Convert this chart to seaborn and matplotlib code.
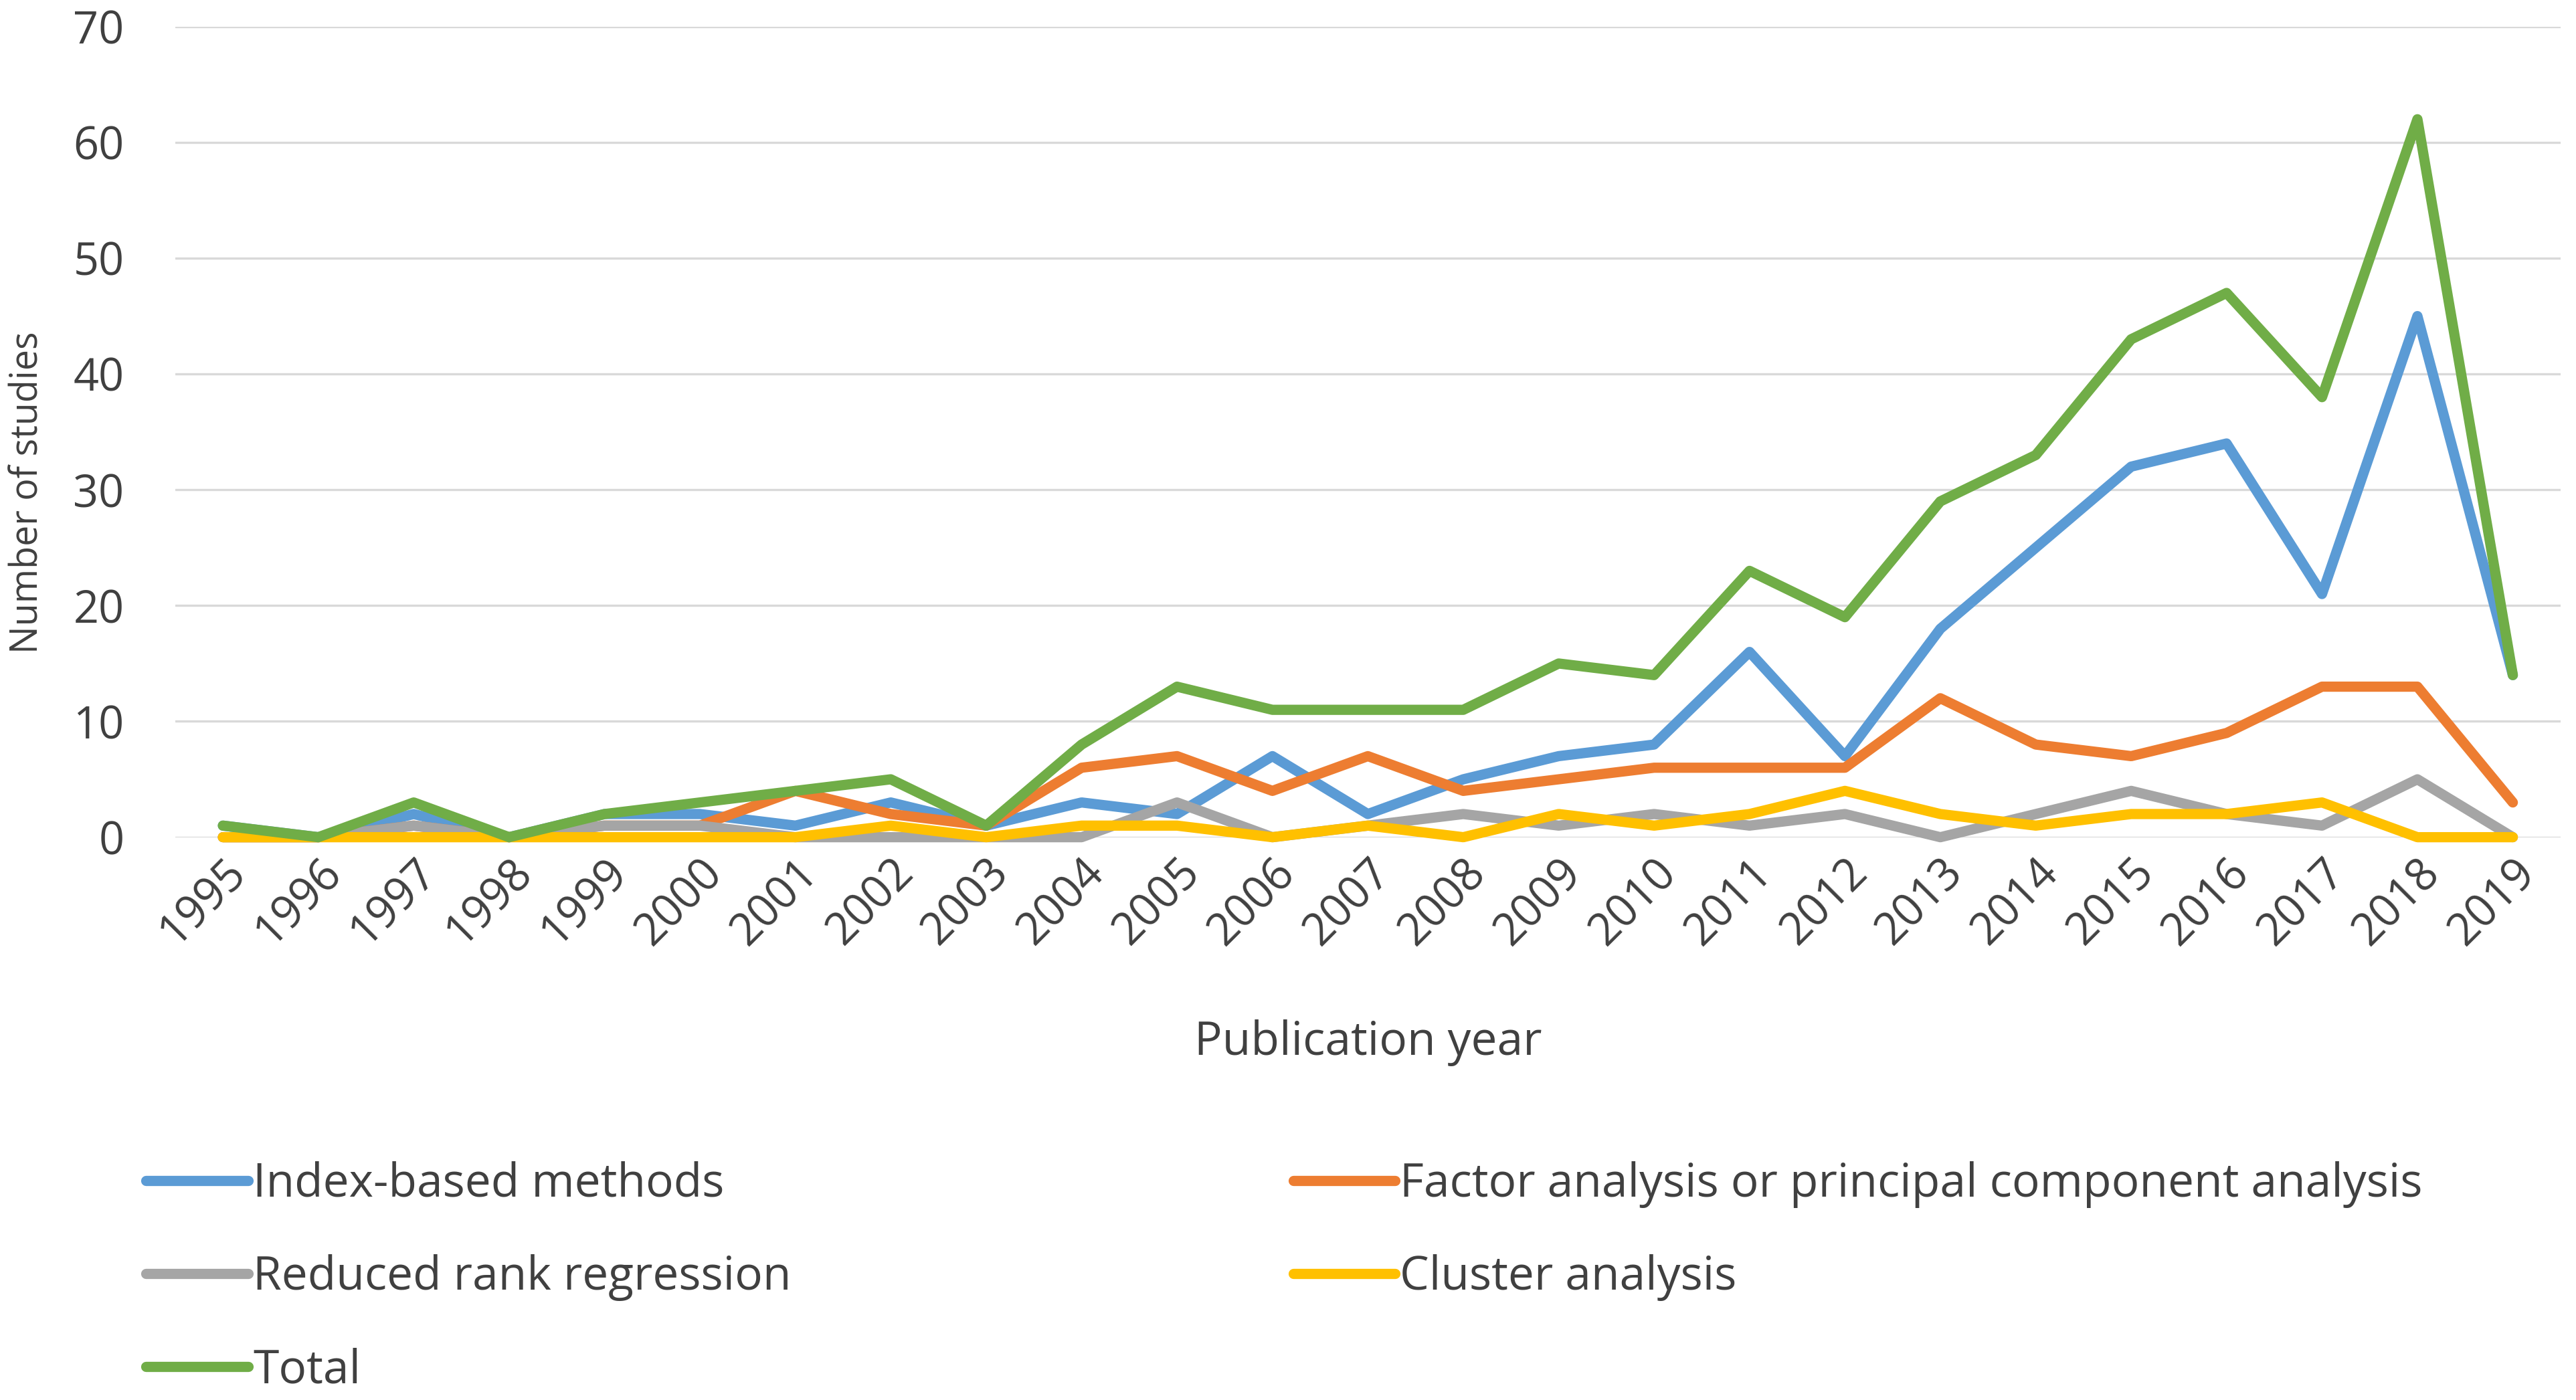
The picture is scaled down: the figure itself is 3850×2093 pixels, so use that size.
import pandas as pd
import numpy as np
import matplotlib
matplotlib.use("Agg")
import matplotlib.pyplot as plt
import seaborn as sns

# values
years = list(range(1995, 2020))
index_based = [1, 0, 2, 0, 2, 2, 1, 3, 1, 3, 2, 7, 2, 5, 7, 8, 16, 7, 18, 25, 32, 34, 21, 45, 14]
factor_pca = [0, 0, 1, 0, 1, 1, 4, 2, 1, 6, 7, 4, 7, 4, 5, 6, 6, 6, 12, 8, 7, 9, 13, 13, 3]
reduced_rank = [0, 0, 1, 0, 1, 1, 0, 0, 0, 0, 3, 0, 1, 2, 1, 2, 1, 2, 0, 2, 4, 2, 1, 5, 0]
cluster = [0, 0, 0, 0, 0, 0, 0, 1, 0, 1, 1, 0, 1, 0, 2, 1, 2, 4, 2, 1, 2, 2, 3, 0, 0]
total = [1, 0, 3, 0, 2, 3, 4, 5, 1, 8, 13, 11, 11, 11, 15, 14, 23, 19, 29, 33, 43, 47, 38, 62, 14]

series_names = ["Index-based methods", "Factor analysis or principal component analysis",
                "Reduced rank regression", "Cluster analysis", "Total"]
series_colors = ["#5B9BD5", "#ED7D31", "#A5A5A5", "#FFC000", "#70AD47"]

df = pd.DataFrame({"Publication year": years,
                   series_names[0]: index_based,
                   series_names[1]: factor_pca,
                   series_names[2]: reduced_rank,
                   series_names[3]: cluster,
                   series_names[4]: total})
long_df = df.melt(id_vars="Publication year", var_name="Method", value_name="Number of studies")

sns.set_style("white")
plt.rcParams["font.family"] = ["Open Sans", "DejaVu Sans"]

fig = plt.figure(figsize=(38.5, 20.93), dpi=100)
ax = fig.add_axes([0.068, 0.402, 0.926, 0.579])

sns.lineplot(data=long_df, x="Publication year", y="Number of studies", hue="Method",
             hue_order=series_names, palette=series_colors, linewidth=11, ax=ax,
             legend=False, clip_on=False, solid_joinstyle="round", solid_capstyle="round")

ax.set_xlim(1994.5, 2019.5)
ax.set_ylim(0, 70)
ax.set_yticks(range(0, 71, 10))
ax.set_xticks(years)
ax.set_xticklabels([str(y) for y in years], rotation=45, ha="right", va="top",
                   rotation_mode="anchor")
ax.yaxis.grid(True, color="#D9D9D9", linewidth=2.4)
ax.set_axisbelow(True)
for s in ax.spines.values():
    s.set_visible(False)
ax.tick_params(axis="y", length=0, pad=55, labelsize=48, labelcolor="#404040")
ax.tick_params(axis="x", length=0, pad=14, labelsize=48, labelcolor="#404040")
ax.set_xlabel("")
ax.set_ylabel("")

fig.text(0.531, 0.255, "Publication year", ha="center", va="center", fontsize=50, color="#404040")
fig.text(0.011, 0.648, "Number of studies", ha="center", va="center", rotation=90,
         fontsize=40, color="#404040")

# legend laid out column by column: Index, RRR, Total | FA, Cluster
handles = [plt.Line2D([], [], color=c, linewidth=11, solid_capstyle="round") for c in series_colors]
order = [0, 2, 4, 1, 3]
leg = fig.legend([handles[i] for i in order], [series_names[i] for i in order],
                 ncol=2, loc="upper left", bbox_to_anchor=(0.0405, 0.2005), frameon=False,
                 fontsize=50, handlelength=2.2, handletextpad=0.1, columnspacing=10.8,
                 labelspacing=1.0, labelcolor="#404040")

fig.savefig("out.png", dpi=100, facecolor="white")
